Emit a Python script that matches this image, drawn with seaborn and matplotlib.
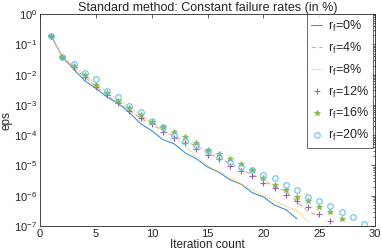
import numpy as np
import pandas as pd
import matplotlib
matplotlib.use("Agg")
import matplotlib.pyplot as plt
import seaborn as sns
from matplotlib.ticker import LogLocator, NullFormatter

sns.set_theme(style="white")
plt.rcParams['font.family'] = ['Liberation Sans', 'DejaVu Sans']
plt.rcParams['mathtext.fontset'] = 'custom'
plt.rcParams['mathtext.rm'] = 'Liberation Sans'
plt.rcParams['mathtext.it'] = 'Liberation Sans'

title = "Standard method: Constant failure rates (in %)"
labels = ["0%", "4%", "8%", "12%", "16%", "20%"]

eps_0 = [1.86e-1, 3.89e-2, 1.51e-2, 6.3e-3, 3.5e-3, 1.8e-3, 1.12e-3, 5.6e-4, 2.4e-4,
         1.4e-4, 7.1e-5, 5.2e-5, 2.6e-5, 1.66e-5, 8.9e-6, 6.0e-6, 3.4e-6, 2.4e-6,
         1.26e-6, 9.1e-7, 4.9e-7, 3.5e-7, 1.74e-7]
eps_4 = [1.86e-1, 3.89e-2, 1.70e-2, 8.3e-3, 4.0e-3, 2.1e-3, 1.17e-3, 6.6e-4, 3.7e-4,
         2.2e-4, 1.41e-4, 9.5e-5, 6.3e-5, 4.4e-5, 2.8e-5, 1.7e-5, 1.2e-5, 7.4e-6,
         5.0e-6, 3.2e-6, 2.0e-6, 1.4e-6, 6.3e-7, 3.0e-7, 2.1e-7]
eps_8 = [1.86e-1, 3.89e-2, 1.91e-2, 9.5e-3, 5.0e-3, 2.6e-3, 1.48e-3, 8.3e-4, 4.7e-4,
         2.6e-4, 1.5e-4, 8.9e-5, 4.5e-5, 1.8e-5, 1.0e-5, 6.3e-6, 4.2e-6, 2.4e-6,
         1.58e-6, 1.0e-6, 6.8e-7, 4.6e-7, 3.2e-7, 1.4e-7]
eps_12 = [1.86e-1, 3.89e-2, 1.74e-2, 8.5e-3, 4.0e-3, 2.1e-3, 1.17e-3, 6.3e-4, 3.8e-4,
          2.4e-4, 1.32e-4, 8.3e-5, 5.6e-5, 3.4e-5, 2.2e-5, 1.58e-5, 9.5e-6, 6.6e-6,
          4.5e-6, 2.7e-6, 1.86e-6, 1.07e-6, 6.8e-7, 4.1e-7, 2.5e-7, 1.5e-7]
eps_16 = [1.86e-1, 3.89e-2, 1.91e-2, 9.8e-3, 4.6e-3, 2.5e-3, 1.35e-3, 7.8e-4, 4.5e-4,
          2.8e-4, 1.86e-4, 1.29e-4, 8.7e-5, 5.6e-5, 3.2e-5, 2.45e-5, 1.58e-5, 1.1e-5,
          6.9e-6, 4.0e-6, 2.2e-6, 1.6e-6, 9.3e-7, 6.8e-7, 4.4e-7, 3.0e-7, 1.66e-7]
eps_20 = [1.86e-1, 3.89e-2, 2.19e-2, 1.15e-2, 7.1e-3, 2.9e-3, 1.86e-3, 9.1e-4, 5.8e-4,
          3.0e-4, 1.9e-4, 1.05e-4, 6.5e-5, 4.7e-5, 2.9e-5, 1.95e-5, 1.32e-5, 8.9e-6,
          6.9e-6, 4.8e-6, 4.0e-6, 2.2e-6, 1.55e-6, 9.3e-7, 6.8e-7, 4.6e-7, 3.0e-7,
          2.0e-7, 1.2e-7]

series = [eps_0, eps_4, eps_8, eps_12, eps_16, eps_20]
colors = ["#3f93d6", "#f0a484", "#f3c766", "#9a62ad", "#86b84a", "#5ec4f0"]
styles = [dict(linestyle="-", lw=0.8), dict(linestyle=(0, (4, 3)), lw=0.8),
          dict(linestyle=(0, (1, 1)), lw=0.9),
          dict(linestyle="none", marker="+", ms=4.5, mew=0.8),
          dict(linestyle="none", marker="*", ms=4.2, mew=0.6),
          dict(linestyle="none", marker="o", ms=4, mew=0.8, mfc="none")]

fig = plt.figure(figsize=(3.82, 2.52), dpi=100)
ax = fig.add_axes([0.105, 0.103, 0.877, 0.841])

for lab, vals, c, st in zip(labels, series, colors, styles):
    df = pd.DataFrame({"it": np.arange(1, len(vals) + 1), "eps": vals})
    kw = dict(st)
    if "marker" in kw:
        kw["mec"] = c
    sns.lineplot(data=df, x="it", y="eps", ax=ax, color=c,
                 label=r"r$_{\rm f}$=" + lab, **kw)

ax.set_yscale("log")
ax.set_xlim(0, 30)
ax.set_ylim(1e-7, 1)
ax.set_xticks([0, 5, 10, 15, 20, 25, 30])
ax.set_yticks([1e0, 1e-1, 1e-2, 1e-3, 1e-4, 1e-5, 1e-6, 1e-7])
ax.yaxis.set_minor_locator(LogLocator(base=10, subs=np.arange(2, 10), numticks=20))
ax.yaxis.set_minor_formatter(NullFormatter())
ax.tick_params(axis="both", which="both", direction="in", top=True, right=True,
               labelsize=8, color="#262626", width=0.5, pad=2)
ax.tick_params(which="major", length=3)
ax.tick_params(which="minor", length=1.5)
for s in ax.spines.values():
    s.set_color("#262626")
    s.set_linewidth(0.6)

ax.set_xlabel("Iteration count", fontsize=8.5, labelpad=0)
ax.set_ylabel("eps", fontsize=8.5, labelpad=1)
ax.set_title(title, fontsize=9, pad=2)

leg = ax.legend(loc="upper right", bbox_to_anchor=(0.995, 1.0), fontsize=9,
                frameon=True, fancybox=False, handlelength=0.9,
                handletextpad=0.45, borderpad=0.35, labelspacing=0.55,
                borderaxespad=0.0, edgecolor="#262626")
leg.get_frame().set_linewidth(0.6)

fig.savefig("out.png", dpi=100)
